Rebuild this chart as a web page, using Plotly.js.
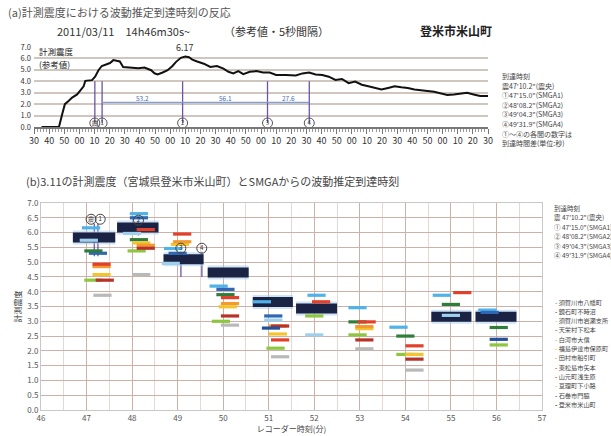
<!DOCTYPE html>
<html><head><meta charset="utf-8">
<script src="https://cdn.plot.ly/plotly-3.0.1.min.js"></script>
<style>body{margin:0;background:#fff}</style>
</head><body><div id="chart" style="width:611px;height:436px"></div>
<script>
// ---------- (a) top panel data ----------
const topTime = [5,16.5,18.7,20.4,23,25.2,28.5,30.7,32.8,33.9,38.3,40.4,42.6,44.8,47,50.2,52.4,56.7,58.9,64.3,69,73,75.2,77.4,79.6,81.7,85,88.3,91.5,93.7,97,100,102.4,104.6,107.8,112.2,116.5,120.9,125.2,128.5,131.7,135,138.3,142.6,147,151.3,155.7,160,166.5,173,177.4,181.8,186.1,190.5,194.8,199.2,203.5,207.9,212.2,216.6,220.9,225.3,229.6,234,238.3,242.7,247,251.4,255.7,260,264.4,268.8,273.1,277.5,281.8,286.2,290.5,294.8,300];
const topIntensity = [0,0,1.16,2.0,2.3,2.57,2.85,3.2,3.56,4.04,4.1,4.4,4.97,5.34,5.45,5.6,5.85,5.73,5.25,5.17,5.15,5.2,5.05,4.97,4.7,4.6,4.77,4.97,5.34,5.68,6.05,6.17,6.1,5.9,5.73,5.54,5.25,5.34,5.11,4.83,4.69,4.89,4.63,4.83,4.89,4.77,4.77,4.55,4.55,4.5,4.69,4.77,4.6,4.55,4.4,4.12,4.2,3.84,3.98,3.7,3.56,3.42,3.28,3.42,3.56,3.47,3.42,3.28,3.19,3.14,3.08,2.91,2.8,2.85,2.91,2.99,2.85,2.71,2.71];
const topTickVals = [0,10,20,30,40,50,60,70,80,90,100,110,120,130,140,150,160,170,180,190,200,210,220,230,240,250,260,270,280,290,300];
const topTickText = ["30","40","50","00","10","20","30","40","50","00","10","20","30","40","50","00","10","20","30","40","50","00","10","20","30","40","50","00","10","20","30"];
const arrivalSec = [40.2, 45.0, 98.2, 154.3, 181.9];          // seconds after 14:46:30
const arrivalMin = [47.17, 47.25, 48.137, 49.072, 49.532];     // minutes (14:xx)
const arrivalMarks = ["震","1","2","3","4"];
const arrivalGaps = ["53.2","56.1","27.6"];
const peakTime = 100, peakValue = 6.17;

// ---------- (b) bottom panel data ----------
const stationNames = ["須賀川市八幡町","鏡石町不時沼","須賀川市岩瀬支所","天栄村下松本","白河市大信","福島伊達市保原町","田村市船引町","東松島市矢本","山元町浅生原","亘理町下小路","石巻市門脇","登米市米山町"];
const stationColors = ["#4fb2e8","#2d67b5","#9fd0ee","#2f7d3a","#8dc63f","#f4c430","#f39a2e","#e2402a","#b83228","#b9b9b9","#22509a","#1b2345"];
const stationTime = [
  [47.1,48.15,48.9,49.9,50.85,52.05,52.95,53.85,54.8,55.8],
  [47.25,48.15,49.0,50.05,51.1,55.85],
  [47.05,48.0,48.85,51.1,52.0,55.0],
  [47.15,48.15,50.05,52.95,54.0,55.0,56.05],
  [47.15,48.1,49.95,51.15,52.0,52.95,54.0,56.05],
  [47.33,48.2,49.05,50.1,51.2,53.1,54.2],
  [47.33,48.3,49.1,50.15,51.2,53.1],
  [47.33,48.3,49.1,50.15,51.25,52.15,53.15,54.2,55.25],
  [47.4,48.3,50.15,51.25,53.1,54.2],
  [47.35,48.2,50.15,51.25,53.1,54.2],
  [51.05,56.05]
];
const stationValue = [
  [6.16,6.64,5.46,4.19,3.66,3.88,3.46,2.8,3.88,3.38],
  [5.3,6.5,5.3,4.08,3.18,3.3],
  [5.74,5.97,4.96,3.04,2.54,3.2],
  [5.38,5.76,3.9,2.98,2.5,3.57,2.79],
  [4.39,5.38,3.0,2.09,3.18,2.54,1.88,2.2],
  [4.58,5.65,5.6,3.49,2.57,2.75,1.88],
  [4.85,5.57,5.69,3.6,2.84,2.82],
  [4.93,6.1,5.95,3.8,2.37,3.66,2.98,2.17,3.97],
  [4.39,5.47,3.18,2.84,2.37,1.72],
  [3.88,4.58,2.87,1.8,2.07,1.35],
  [2.77,2.39]
];
// 登米市米山町 (per-minute blocks)
const yoneyamaStart = [46.7,47.67,48.69,49.66,50.65,51.6,54.57,55.54];
const yoneyamaEnd   = [47.63,48.58,49.57,50.56,51.53,52.5,55.45,56.44];
const yoneyamaValue = [5.83,6.17,5.1,4.65,3.65,3.43,3.15,3.15];

// ---------- traces ----------
const traces = [];
const FONT = '"Noto Sans CJK JP","Noto Sans",sans-serif';
const purple = '#6b55a8';

const avx=[], avy=[];
arrivalSec.forEach(t=>{avx.push(t,t,null); avy.push(0.35,4.0,null);});
traces.push({x:avx,y:avy,xaxis:'x',yaxis:'y',mode:'lines',line:{color:purple,width:1.3},hoverinfo:'skip'});
traces.push({x:[arrivalSec[1],arrivalSec[4]],y:[2.15,2.15],xaxis:'x',yaxis:'y',mode:'lines',line:{color:'#7fa0d8',width:1.2},hoverinfo:'skip'});
traces.push({x:topTime,y:topIntensity,xaxis:'x',yaxis:'y',mode:'lines',line:{color:'#111',width:2},hoverinfo:'skip'});
traces.push({x:arrivalSec,y:arrivalSec.map(()=>0.35),xaxis:'x',yaxis:'y',mode:'markers+text',
  text:arrivalMarks,textposition:'middle center',textfont:{size:6,color:'#333',family:FONT},
  marker:{symbol:'circle-open',size:10,color:'#555',line:{width:1,color:'#555'}},hoverinfo:'skip'});

const bTop=[6.3,6.3,6.35,5.35,5.35], bBot=[5.2,5.2,5.9,4.5,4.5];
const bvx=[], bvy=[];
arrivalMin.forEach((m,i)=>{bvx.push(m,m,null); bvy.push(bTop[i],bBot[i],null);});
traces.push({x:bvx,y:bvy,xaxis:'x2',yaxis:'y2',mode:'lines',line:{color:purple,width:1.3},hoverinfo:'skip'});
const yx=[], yy=[];
yoneyamaStart.forEach((s,i)=>{yx.push(s,yoneyamaEnd[i],null); yy.push(yoneyamaValue[i],yoneyamaValue[i],null);});
traces.push({x:yx,y:yy,xaxis:'x2',yaxis:'y2',mode:'lines',line:{color:'rgba(170,205,238,0.55)',width:14},hoverinfo:'skip'});
traces.push({x:yx,y:yy,xaxis:'x2',yaxis:'y2',mode:'lines',line:{color:stationColors[11],width:10},hoverinfo:'skip'});
stationTime.forEach((ts,i)=>{
  traces.push({x:ts,y:stationValue[i],xaxis:'x2',yaxis:'y2',mode:'markers',
    marker:{symbol:'line-ew',size:13,color:stationColors[i],line:{width:3.2,color:stationColors[i]}},hoverinfo:'skip'});
});
const bLabY=[6.45,6.45,6.42,5.47,5.47];
const bLabX=[47.1,47.3,48.14,49.07,49.53];
traces.push({x:bLabX,y:bLabY,xaxis:'x2',yaxis:'y2',mode:'markers+text',text:arrivalMarks,
  textposition:'middle center',textfont:{size:6,color:'#222',family:FONT},
  marker:{symbol:'circle-open',size:10,color:'#444',line:{width:1,color:'#444'}},hoverinfo:'skip'});

// ---------- annotations ----------
const W=611,H=436;
const px=(x)=>x/W, py=(y)=>1-y/H;
const ann = [];
ann.push({xref:'paper',yref:'paper',x:px(6),y:py(12),xanchor:'left',yanchor:'middle',showarrow:false,
  text:'(a)計測震度における波動推定到達時刻の反応',font:{size:11,color:'#555',family:FONT}});
ann.push({xref:'paper',yref:'paper',x:px(55),y:py(31),xanchor:'left',yanchor:'middle',showarrow:false,
  text:'2011/03/11　14h46m30s~',font:{size:11,color:'#333',family:FONT}});
ann.push({xref:'paper',yref:'paper',x:px(222),y:py(31),xanchor:'left',yanchor:'middle',showarrow:false,
  text:'（参考値・5秒間隔）',font:{size:11,color:'#333',family:FONT}});
ann.push({xref:'paper',yref:'paper',x:px(418),y:py(31),xanchor:'left',yanchor:'middle',showarrow:false,
  text:'<b>登米市米山町</b>',font:{size:12,color:'#222',family:FONT}});
ann.push({xref:'paper',yref:'paper',x:px(37),y:py(51),xanchor:'left',yanchor:'middle',showarrow:false,
  text:'計測震度',font:{size:8.5,color:'#222',family:FONT}});
ann.push({xref:'paper',yref:'paper',x:px(37),y:py(64),xanchor:'left',yanchor:'middle',showarrow:false,
  text:'(参考値)',font:{size:8.5,color:'#222',family:FONT}});
ann.push({xref:'x',yref:'y',x:peakTime,y:peakValue+0.75,showarrow:false,text:peakValue.toFixed(2),font:{size:9,color:'#333',family:FONT}});
for(let i=0;i<3;i++){
  ann.push({xref:'x',yref:'y',x:(arrivalSec[i+1]+arrivalSec[i+2])/2,y:2.5,showarrow:false,text:arrivalGaps[i],font:{size:6.5,color:'#4a6fb5',family:FONT}});
}
const circ=['震','①','②','③','④'];
const legA = ['到達時刻'].concat(arrivalSec.map((s,i)=>{
  const m=Math.floor((s+30)/60)+46, sec=((s+30)%60);
  const tag = i===0?'(震央)':'(SMGA'+i+')';
  return circ[i]+m+"'"+(sec<10?'0':'')+sec.toFixed(1)+'"'+tag;
})).concat(['①～④の各間の数字は','到達時間差(単位:秒)']);
legA.forEach((t,i)=>ann.push({xref:'paper',yref:'paper',x:px(500),y:py(76+i*9.6),xanchor:'left',yanchor:'middle',showarrow:false,
  text:t,font:{size:7,color:'#444',family:FONT}}));
ann.push({xref:'paper',yref:'paper',x:px(24),y:py(181),xanchor:'left',yanchor:'middle',showarrow:false,
  text:'(b)3.11の計測震度（宮城県登米市米山町）とSMGAからの波動推定到達時刻',font:{size:11,color:'#444',family:FONT}});
const legB = ['到達時刻'].concat(arrivalSec.map((s,i)=>{
  const m=Math.floor((s+30)/60)+46, sec=((s+30)%60);
  const tag = i===0?'(震央)':'(SMGA'+i+')';
  return circ[i]+' '+m+"'"+(sec<10?'0':'')+sec.toFixed(1)+'"'+tag;
}));
legB.forEach((t,i)=>ann.push({xref:'paper',yref:'paper',x:px(552),y:py(208+i*9.4),xanchor:'left',yanchor:'middle',showarrow:false,
  text:t,font:{size:6.5,color:'#444',family:FONT}}));
stationNames.forEach((n,i)=>ann.push({xref:'paper',yref:'paper',x:px(553),y:py(302+i*9.3),xanchor:'left',yanchor:'middle',showarrow:false,
  text:'<span style="color:'+stationColors[i]+'"><b>-</b></span> '+n,font:{size:6.2,color:'#444',family:FONT}}));

const layout = {
  width:W,height:H,margin:{l:0,r:0,t:0,b:0},paper_bgcolor:'#fff',plot_bgcolor:'rgba(0,0,0,0)',showlegend:false,
  font:{family:FONT,size:8,color:'#444'},
  xaxis:{domain:[px(34),px(488)],range:[0,300],tickmode:'array',tickvals:topTickVals,ticktext:topTickText,
    ticks:'outside',ticklen:5,tickcolor:'#777',showline:true,linecolor:'#777',linewidth:1.5,showgrid:false,zeroline:false,
    tickfont:{size:9,color:'#333'},minor:{tickmode:'linear',tick0:0,dtick:2,ticks:'outside',ticklen:3,tickcolor:'#999'},anchor:'y'},
  yaxis:{domain:[1-127/H,1-47/H],range:[0,7],tickmode:'linear',tick0:0,dtick:1,tickformat:'.1f',showgrid:true,gridcolor:'#cfc6bf',gridwidth:2,
    zeroline:false,showline:false,tickfont:{size:7.5,color:'#333'},anchor:'x',ticklabelstandoff:2},
  xaxis2:{domain:[px(41),px(542)],range:[46,57],tickmode:'linear',tick0:46,dtick:1,showgrid:true,gridcolor:'#ccb1a9',gridwidth:1,
    minor:{tickmode:'linear',tick0:46,dtick:0.5,showgrid:true,gridcolor:'#e6d8d3'},zeroline:false,showline:true,linecolor:'#c8c8c8',mirror:true,
    tickfont:{size:8,color:'#555'},title:{text:'レコーダー時刻(分)',font:{size:8,color:'#444'},standoff:3},anchor:'y2'},
  yaxis2:{domain:[1-410/H,1-203/H],range:[0,7],tickmode:'linear',tick0:0,dtick:0.5,tickformat:'.1f',showgrid:true,gridcolor:'#ccb1a9',
    zeroline:false,showline:true,mirror:true,linecolor:'#c8c8c8',tickfont:{size:8,color:'#555'},
    title:{text:'計測震度',font:{size:8,color:'#333'},standoff:4},anchor:'x2'},
  annotations:ann
};
Plotly.newPlot('chart',traces,layout,{displayModeBar:false,staticPlot:true});
</script></body></html>
